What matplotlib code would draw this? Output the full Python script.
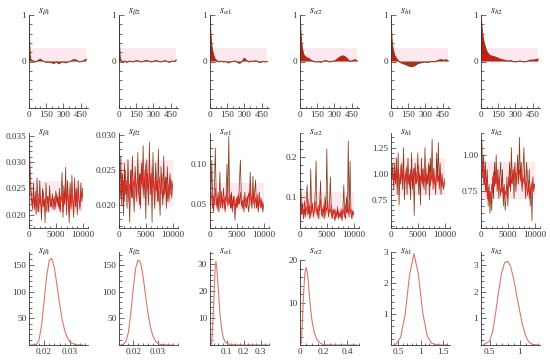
import numpy as np
import matplotlib
matplotlib.use("Agg")
import matplotlib.pyplot as plt
from matplotlib.ticker import MultipleLocator

plt.rcParams['font.family'] = ['Liberation Serif', 'DejaVu Serif']
plt.rcParams['mathtext.fontset'] = 'stix'

# ---------------- data ----------------
names = [r'$s_{\beta 1}$', r'$s_{\beta 2}$', r'$s_{\alpha 1}$',
         r'$s_{\alpha 2}$', r'$s_{h1}$', r'$s_{h2}$']

# autocorrelation (row 1)
acf_lags = [0, 5, 10, 15, 20, 30, 40, 50, 60, 70, 80, 90, 100, 120, 140, 160, 180,
            200, 220, 240, 260, 280, 300, 320, 340, 360, 380, 400, 420, 440, 460, 480, 500]
acf_b1 = [1.0, 0.45, 0.15, 0.06, 0.03, 0.02, 0.01, 0.0, -0.01, 0.01, 0.02, 0.04, 0.05, 0.01,
          -0.01, -0.02, -0.01, -0.03, -0.04, -0.01, -0.05, -0.02, -0.01, -0.03, -0.01, 0.0,
          0.03, 0.04, 0.02, -0.01, 0.0, 0.02, 0.05]
acf_b2 = [1.0, 0.35, 0.10, 0.04, 0.02, 0.0, -0.01, 0.01, 0.0, -0.02, -0.01, 0.01, 0.0, -0.01,
          0.01, 0.02, 0.0, -0.01, 0.01, 0.02, 0.01, -0.01, 0.0, 0.02, 0.01, -0.01, 0.0, 0.02,
          0.0, -0.02, 0.01, 0.0, 0.03]
acf_a1 = [1.0, 0.70, 0.50, 0.36, 0.27, 0.15, 0.08, 0.04, 0.02, 0.0, -0.01, 0.01, 0.0, -0.01,
          0.0, -0.03, -0.01, 0.0, 0.01, -0.02, -0.04, 0.0, 0.07, 0.02, -0.01, 0.01, 0.0, 0.02,
          -0.01, -0.02, 0.0, -0.01, 0.0]
acf_a2 = [1.0, 0.75, 0.55, 0.40, 0.30, 0.17, 0.12, 0.10, 0.08, 0.07, 0.06, 0.04, 0.02, 0.0,
          -0.01, 0.0, -0.02, 0.0, 0.02, 0.01, -0.01, 0.0, 0.01, 0.04, 0.08, 0.11, 0.12, 0.09,
          0.04, 0.0, 0.02, 0.04, 0.01]
acf_h1 = [1.0, 0.65, 0.45, 0.33, 0.25, 0.15, 0.10, 0.06, 0.03, 0.0, -0.02, -0.03, -0.04,
          -0.06, -0.08, -0.10, -0.11, -0.10, -0.07, -0.04, -0.03, -0.02, -0.01, -0.02, -0.01,
          0.0, -0.01, 0.01, 0.03, 0.04, 0.02, 0.04, 0.01]
acf_h2 = [1.0, 0.85, 0.70, 0.60, 0.50, 0.38, 0.30, 0.22, 0.18, 0.15, 0.13, 0.12, 0.11, 0.10,
          0.08, 0.06, 0.04, 0.03, 0.02, 0.01, 0.02, 0.0, -0.01, 0.0, 0.01, 0.0, -0.01, 0.0,
          0.02, 0.03, 0.03, 0.04, 0.05]
acf_vals = [acf_b1, acf_b2, acf_a1, acf_a2, acf_h1, acf_h2]

# traces (row 2): two chains each, 61 values over 0..10000 iterations
trace_brown = [
    [0.0345, 0.0300, 0.0255, 0.0230, 0.0215, 0.0260, 0.0210, 0.0235, 0.0200, 0.0270, 0.0220,
     0.0205, 0.0265, 0.0225, 0.0190, 0.0250, 0.0215, 0.0230, 0.0185, 0.0260, 0.0220, 0.0235,
     0.0205, 0.0255, 0.0225, 0.0215, 0.0240, 0.0220, 0.0230, 0.0210, 0.0245, 0.0225, 0.0235,
     0.0215, 0.0250, 0.0205, 0.0240, 0.0280, 0.0195, 0.0255, 0.0220, 0.0290, 0.0200, 0.0265,
     0.0230, 0.0185, 0.0260, 0.0210, 0.0275, 0.0225, 0.0195, 0.0270, 0.0215, 0.0250, 0.0200,
     0.0265, 0.0230, 0.0210, 0.0260, 0.0225, 0.0250],
    [0.0290, 0.0215, 0.0270, 0.0200, 0.0245, 0.0185, 0.0260, 0.0215, 0.0235, 0.0195, 0.0265,
     0.0225, 0.0175, 0.0250, 0.0210, 0.0270, 0.0220, 0.0190, 0.0255, 0.0230, 0.0205, 0.0275,
     0.0215, 0.0245, 0.0195, 0.0260, 0.0225, 0.0285, 0.0210, 0.0250, 0.0180, 0.0265, 0.0230,
     0.0200, 0.0290, 0.0215, 0.0245, 0.0175, 0.0275, 0.0220, 0.0195, 0.0260, 0.0235, 0.0205,
     0.0280, 0.0215, 0.0185, 0.0255, 0.0225, 0.0200, 0.0270, 0.0215, 0.0240, 0.0195, 0.0255,
     0.0220, 0.0205, 0.0245, 0.0215, 0.0235, 0.0225],
    [0.045, 0.060, 0.105, 0.050, 0.040, 0.075, 0.120, 0.055, 0.045, 0.065, 0.040, 0.090, 0.050,
     0.060, 0.045, 0.070, 0.055, 0.040, 0.060, 0.100, 0.050, 0.135, 0.055, 0.045, 0.065, 0.040,
     0.060, 0.050, 0.030, 0.055, 0.045, 0.060, 0.050, 0.080, 0.105, 0.060, 0.045, 0.055, 0.040,
     0.065, 0.050, 0.045, 0.060, 0.040, 0.050, 0.090, 0.055, 0.045, 0.085, 0.050, 0.065, 0.080,
     0.045, 0.055, 0.040, 0.065, 0.050, 0.045, 0.055, 0.040, 0.048],
    [0.040, 0.120, 0.060, 0.085, 0.045, 0.070, 0.050, 0.095, 0.130, 0.055, 0.075, 0.045, 0.170,
     0.060, 0.080, 0.050, 0.065, 0.110, 0.190, 0.055, 0.070, 0.045, 0.085, 0.140, 0.060, 0.050,
     0.075, 0.045, 0.100, 0.060, 0.220, 0.070, 0.050, 0.085, 0.150, 0.060, 0.045, 0.070, 0.055,
     0.040, 0.065, 0.050, 0.075, 0.045, 0.060, 0.050, 0.070, 0.040, 0.065, 0.130, 0.055, 0.045,
     0.100, 0.060, 0.240, 0.050, 0.190, 0.060, 0.045, 0.065, 0.055],
    [1.00, 0.95, 1.10, 0.85, 1.05, 0.90, 1.15, 0.80, 1.20, 0.70, 1.00, 0.90, 1.10, 0.85, 1.25,
     0.75, 0.95, 1.05, 0.80, 1.15, 0.90, 1.00, 0.75, 1.20, 0.85, 1.05, 0.60, 1.10, 0.90, 0.95,
     1.20, 0.80, 1.00, 0.70, 1.15, 0.90, 1.05, 0.85, 1.25, 0.80, 1.00, 0.90, 1.10, 0.75, 1.15,
     0.95, 1.33, 0.85, 1.05, 0.90, 0.80, 1.20, 0.95, 1.30, 0.85, 1.10, 0.80, 1.00, 0.90, 0.85,
     0.95],
    [0.95, 1.10, 0.85, 1.00, 0.80, 0.95, 0.75, 0.90, 0.65, 0.80, 0.60, 0.75, 0.62, 0.85, 0.70,
     0.95, 0.80, 1.00, 0.75, 0.90, 0.70, 0.85, 0.95, 0.75, 0.90, 0.65, 0.80, 0.62, 0.70, 0.85,
     0.65, 0.80, 0.95, 0.75, 1.05, 0.80, 0.90, 0.70, 0.95, 0.75, 0.85, 1.00, 0.80, 1.12, 0.85,
     0.95, 0.75, 0.90, 1.05, 0.80, 0.70, 0.95, 0.85, 0.75, 0.90, 0.65, 0.80, 0.55, 0.85, 0.75,
     0.80],
]
trace_red = [
    [0.0310, 0.0265, 0.0240, 0.0225, 0.0210, 0.0235, 0.0220, 0.0245, 0.0215, 0.0230, 0.0205,
     0.0240, 0.0220, 0.0235, 0.0210, 0.0225, 0.0245, 0.0215, 0.0230, 0.0220, 0.0205, 0.0235,
     0.0225, 0.0240, 0.0215, 0.0230, 0.0220, 0.0210, 0.0235, 0.0225, 0.0215, 0.0240, 0.0220,
     0.0230, 0.0210, 0.0235, 0.0225, 0.0245, 0.0205, 0.0240, 0.0220, 0.0255, 0.0210, 0.0245,
     0.0225, 0.0200, 0.0250, 0.0215, 0.0240, 0.0230, 0.0205, 0.0255, 0.0220, 0.0240, 0.0210,
     0.0250, 0.0225, 0.0215, 0.0245, 0.0230, 0.0240],
    [0.0255, 0.0230, 0.0210, 0.0245, 0.0220, 0.0235, 0.0205, 0.0250, 0.0225, 0.0215, 0.0240,
     0.0205, 0.0230, 0.0220, 0.0250, 0.0210, 0.0235, 0.0225, 0.0245, 0.0210, 0.0230, 0.0240,
     0.0220, 0.0200, 0.0245, 0.0230, 0.0255, 0.0215, 0.0240, 0.0225, 0.0260, 0.0220, 0.0245,
     0.0210, 0.0250, 0.0230, 0.0215, 0.0255, 0.0225, 0.0240, 0.0210, 0.0245, 0.0220, 0.0235,
     0.0205, 0.0240, 0.0225, 0.0215, 0.0245, 0.0230, 0.0210, 0.0235, 0.0220, 0.0240, 0.0205,
     0.0230, 0.0215, 0.0240, 0.0225, 0.0210, 0.0230],
    [0.050, 0.065, 0.055, 0.045, 0.060, 0.050, 0.070, 0.048, 0.058, 0.042, 0.062, 0.052, 0.045,
     0.066, 0.050, 0.056, 0.044, 0.060, 0.052, 0.068, 0.047, 0.058, 0.050, 0.062, 0.045, 0.055,
     0.048, 0.060, 0.042, 0.052, 0.058, 0.046, 0.062, 0.050, 0.065, 0.048, 0.055, 0.044, 0.060,
     0.052, 0.046, 0.058, 0.050, 0.064, 0.055, 0.070, 0.048, 0.062, 0.052, 0.068, 0.045, 0.058,
     0.050, 0.062, 0.044, 0.055, 0.048, 0.058, 0.045, 0.052, 0.048],
    [0.060, 0.085, 0.055, 0.070, 0.050, 0.090, 0.065, 0.075, 0.055, 0.095, 0.060, 0.080, 0.050,
     0.070, 0.085, 0.055, 0.065, 0.090, 0.060, 0.075, 0.050, 0.080, 0.065, 0.095, 0.055, 0.070,
     0.060, 0.085, 0.050, 0.075, 0.065, 0.090, 0.055, 0.070, 0.060, 0.080, 0.050, 0.065, 0.055,
     0.070, 0.045, 0.060, 0.055, 0.065, 0.050, 0.060, 0.045, 0.065, 0.055, 0.070, 0.050, 0.080,
     0.060, 0.075, 0.055, 0.085, 0.060, 0.070, 0.050, 0.065, 0.060],
    [1.05, 0.95, 1.00, 0.90, 1.10, 0.92, 1.02, 0.88, 1.05, 0.95, 0.90, 1.08, 0.97, 0.92, 1.05,
     0.88, 1.00, 0.94, 1.08, 0.90, 0.98, 0.86, 1.04, 0.93, 0.99, 0.88, 1.06, 0.95, 0.90, 1.02,
     0.92, 1.08, 0.88, 0.98, 0.93, 1.04, 0.87, 0.97, 0.92, 1.06, 0.90, 0.99, 0.94, 1.08, 0.88,
     1.00, 0.92, 1.05, 0.90, 0.97, 0.86, 1.03, 0.92, 0.98, 0.88, 1.02, 0.90, 0.96, 0.87, 0.92,
     0.90],
    [0.90, 0.85, 0.95, 0.80, 0.90, 0.75, 0.85, 0.70, 0.78, 0.68, 0.75, 0.70, 0.80, 0.74, 0.88,
     0.78, 0.85, 0.80, 0.90, 0.76, 0.84, 0.80, 0.72, 0.82, 0.74, 0.78, 0.70, 0.76, 0.72, 0.80,
     0.75, 0.85, 0.78, 0.90, 0.80, 0.86, 0.82, 0.92, 0.84, 0.88, 0.80, 0.95, 0.86, 0.90, 0.82,
     0.88, 0.78, 0.85, 0.80, 0.90, 0.76, 0.82, 0.72, 0.80, 0.70, 0.78, 0.74, 0.82, 0.76, 0.80,
     0.78],
]
n_iter = 10000

# posterior densities (row 3)
dens_x = [
    [0.015, 0.017, 0.018, 0.019, 0.020, 0.021, 0.022, 0.023, 0.024, 0.025, 0.026, 0.027, 0.028,
     0.029, 0.030, 0.031, 0.032, 0.033, 0.035],
    [0.015, 0.016, 0.017, 0.018, 0.019, 0.020, 0.021, 0.022, 0.023, 0.024, 0.025, 0.026, 0.027,
     0.028, 0.029, 0.030, 0.031, 0.033, 0.036],
    [0.0, 0.01, 0.02, 0.03, 0.035, 0.04, 0.05, 0.06, 0.07, 0.08, 0.09, 0.10, 0.12, 0.15, 0.20, 0.34],
    [0.0, 0.01, 0.02, 0.03, 0.04, 0.05, 0.06, 0.07, 0.08, 0.09, 0.10, 0.12, 0.14, 0.16, 0.18, 0.20,
     0.25, 0.48],
    [0.40, 0.45, 0.55, 0.65, 0.75, 0.85, 0.95, 1.05, 1.15, 1.25, 1.35, 1.45, 1.60],
    [0.40, 0.50, 0.55, 0.60, 0.65, 0.70, 0.75, 0.80, 0.85, 0.90, 0.95, 1.00, 1.05, 1.10, 1.15,
     1.20, 1.30],
]
dens_y = [
    [0, 1, 8, 35, 80, 128, 158, 162, 145, 112, 78, 48, 27, 14, 6, 3, 1, 0.3, 0],
    [0, 1, 6, 22, 58, 105, 145, 160, 155, 128, 92, 58, 32, 16, 7, 3, 1, 0.2, 0],
    [0, 0.5, 12, 28, 31, 29, 20, 11, 5.5, 2.5, 1.2, 0.6, 0.2, 0.05, 0, 0],
    [0, 0.5, 5, 12, 16.5, 18.3, 17.5, 15, 11.5, 8.5, 6, 3, 1.5, 0.7, 0.3, 0.1, 0, 0],
    [0, 0.04, 0.25, 0.98, 2.24, 2.95, 2.3, 1.05, 0.3, 0.06, 0.01, 0, 0],
    [0, 0.15, 0.5, 1.2, 2.0, 2.7, 3.1, 3.15, 2.95, 2.5, 1.9, 1.3, 0.75, 0.35, 0.12, 0.03, 0],
]

# tick settings
trace_yticks = [[0.020, 0.025, 0.030, 0.035], [0.020, 0.025, 0.030], [0.05, 0.10],
                [0.1, 0.2], [0.75, 1.00, 1.25], [0.75, 1.00]]
trace_ylabels = [['0.020', '0.025', '0.030', '0.035'], ['0.020', '0.025', '0.030'],
                 ['0.05', '0.10'], ['0.1', '0.2'], ['0.75', '1.00', '1.25'], ['0.75', '1.00']]
trace_ylims = [(0.0175, 0.0355), (0.0167, 0.0303), (0.020, 0.139), (0.022, 0.260),
               (0.48, 1.39), (0.50, 1.15)]
trace_minor = [0.001, 0.001, 0.01, 0.02, 0.05, 0.05]

dens_xticks = [[0.02, 0.03], [0.02, 0.03], [0.1, 0.2, 0.3], [0, 0.2, 0.4], [0.5, 1, 1.5], [0.5, 1]]
dens_xlabels = [['0.02', '0.03'], ['0.02', '0.03'], ['0.1', '0.2', '0.3'], ['0', '0.2', '0.4'],
                ['0.5', '1', '1.5'], ['0.5', '1']]
dens_xlims = [(0.0142, 0.037), (0.0143, 0.038), (0.0, 0.35), (0.0, 0.5), (0.33, 1.67),
              (0.357, 1.34)]
dens_xminor = [0.002, 0.002, 0.025, 0.05, 0.1, 0.1]
dens_yticks = [[50, 100, 150], [50, 100, 150], [10, 20, 30], [10, 20], [1, 2, 3], [1, 2, 3]]
dens_ylims = [(0, 174), (0, 175), (0, 34.5), (0, 21.9), (0, 3.0), (0, 3.5)]
dens_ytop = [174, 175, 34.5, 20, 3.0, 3.5]
dens_yminor = [10, 10, 2, 2, 0.2, 0.2]

# ---------------- style ----------------
BROWN = '#8a3c1c'
RED = '#e3201b'
PINK = '#fde8ef'
DENS = '#d9786a'
AXC = '#333333'
FS = 6.6

W, H = 550, 363
lefts = [29, 119, 210, 300, 391, 481]
pw = 59
rows = [(15, 108), (133, 228), (252, 345)]

fig = plt.figure(figsize=(W / 100, H / 100), dpi=100)


def make_ax(col, row):
    top, bot = rows[row]
    ax = fig.add_axes([lefts[col] / W, (H - bot) / H, pw / W, (bot - top) / H])
    for s in ['top', 'right']:
        ax.spines[s].set_visible(False)
    for s in ['left', 'bottom']:
        ax.spines[s].set_color(AXC)
        ax.spines[s].set_linewidth(0.6)
    ax.tick_params(which='both', direction='in', colors=AXC, labelsize=FS, width=0.5, pad=2)
    ax.tick_params(which='major', length=3.5)
    ax.tick_params(which='minor', length=1.8)
    ax.set_facecolor('none')
    return ax


def title(ax, i, dy):
    ax.text(0.16, 1.0 + dy, names[i], transform=ax.transAxes, fontsize=7.5,
            ha='left', va='center', color='#222222')


for i in range(6):
    # ---- row 1: autocorrelation ----
    ax = make_ax(i, 0)
    lags = np.array(acf_lags, dtype=float)
    vals = np.array(acf_vals[i])
    ax.fill_between(lags, 0, 0.3, color=PINK, lw=0, zorder=0)
    ax.fill_between(lags, 0, vals, where=vals >= 0, interpolate=True, color='#c81e10',
                    lw=0, zorder=1)
    ax.fill_between(lags, 0, vals, where=vals < 0, interpolate=True, color='#9a3a14',
                    lw=0, zorder=1)
    ax.plot(lags, vals, color=BROWN, lw=0.8, zorder=2)
    ax.set_xlim(0, 515)
    ax.set_ylim(-1, 1)
    ax.set_xticks([0, 150, 300, 450])
    ax.xaxis.set_minor_locator(MultipleLocator(50))
    ax.set_yticks([0, 1])
    ax.yaxis.set_minor_locator(MultipleLocator(0.2))
    title(ax, i, 0.03)

    # ---- row 2: traces ----
    ax = make_ax(i, 1)
    b = np.array(trace_brown[i])
    r = np.array(trace_red[i])
    xb = np.linspace(0, n_iter, len(b))
    xr = np.linspace(0, n_iter, len(r))
    lo, hi = np.percentile(np.concatenate([b, r]), [8, 92])
    ax.fill_between([0, n_iter], lo, hi, color=PINK, lw=0, zorder=0)
    ax.plot(xb, b, color=BROWN, lw=0.55, zorder=1)
    ax.plot(xr, r, color=RED, lw=0.5, zorder=2)
    ax.set_xlim(0, 11000)
    ax.set_ylim(*trace_ylims[i])
    ax.set_xticks([0, 5000, 10000])
    ax.xaxis.set_minor_locator(MultipleLocator(1000))
    ax.set_yticks(trace_yticks[i], trace_ylabels[i])
    ax.yaxis.set_minor_locator(MultipleLocator(trace_minor[i]))
    title(ax, i, 0.0)

    # ---- row 3: densities ----
    ax = make_ax(i, 2)
    ax.plot(dens_x[i], dens_y[i], color=DENS, lw=0.8)
    ax.set_xlim(*dens_xlims[i])
    ax.set_ylim(*dens_ylims[i])
    ax.spines['left'].set_bounds(0, dens_ytop[i])
    ax.set_xticks(dens_xticks[i], dens_xlabels[i])
    ax.xaxis.set_minor_locator(MultipleLocator(dens_xminor[i]))
    ax.set_yticks(dens_yticks[i])
    ax.yaxis.set_minor_locator(MultipleLocator(dens_yminor[i]))
    title(ax, i, 0.0)

fig.savefig('out.png', dpi=100)
